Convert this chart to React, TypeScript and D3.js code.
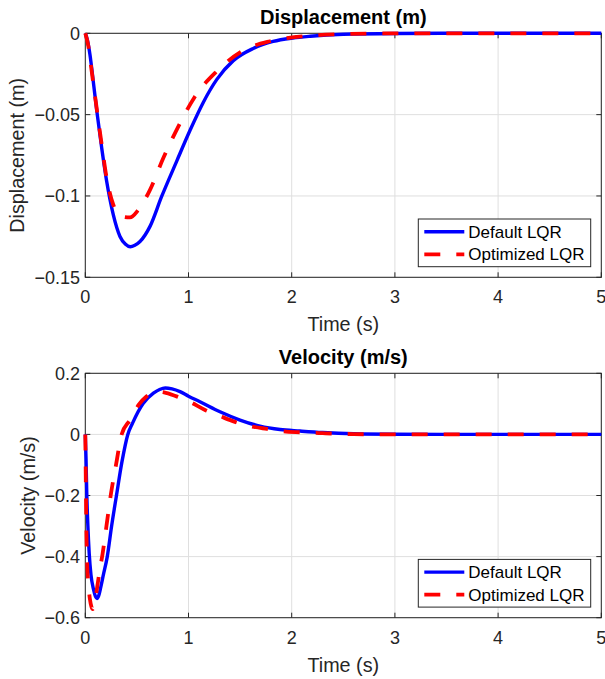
import React from 'react';
import * as d3 from 'd3';

// ---- data ----
const timeTicks = [0, 1, 2, 3, 4, 5];
const dispTicks = [0, -0.05, -0.1, -0.15];
const velTicks = [0.2, 0, -0.2, -0.4, -0.6];
const seriesNames = ['Default LQR', 'Optimized LQR'];

const dispDefault: [number, number][] = [
  [0, 0], [0.02, -0.004], [0.045, -0.013], [0.078, -0.03], [0.116, -0.05], [0.159, -0.0705],
  [0.207, -0.091], [0.271, -0.1115], [0.336, -0.1249], [0.39, -0.1297], [0.435, -0.1312],
  [0.48, -0.1303], [0.53, -0.128], [0.627, -0.1187], [0.74, -0.1003], [0.885, -0.0787],
  [1.014, -0.0598], [1.143, -0.0425], [1.273, -0.0285], [1.434, -0.0168], [1.628, -0.0093],
  [1.82, -0.005], [2.01, -0.0029], [2.18, -0.0018], [2.5, -0.0006], [3, -0.0001], [3.5, 0], [5, 0],
];
const dispOptimized: [number, number][] = [
  [0, 0], [0.03, -0.008], [0.062, -0.0234], [0.11, -0.046], [0.159, -0.0685], [0.207, -0.089],
  [0.271, -0.1054], [0.353, -0.1126], [0.433, -0.1132], [0.514, -0.1085], [0.627, -0.0962],
  [0.756, -0.0767], [0.92, -0.055], [1.063, -0.0388], [1.273, -0.0234], [1.515, -0.0111],
  [1.79, -0.0049], [2.05, -0.0022], [2.5, -0.0005], [3, 0], [5, 0],
];
const velDefault: [number, number][] = [
  [0, 0], [0.007, -0.08], [0.014, -0.19], [0.025, -0.3], [0.038, -0.39], [0.055, -0.46],
  [0.078, -0.505], [0.098, -0.53], [0.113, -0.537], [0.13, -0.528], [0.15, -0.5], [0.175, -0.46],
  [0.213, -0.4], [0.255, -0.3], [0.302, -0.2], [0.355, -0.09], [0.412, 0], [0.457, 0.036],
  [0.56, 0.101], [0.66, 0.135], [0.72, 0.147], [0.775, 0.152], [0.84, 0.149], [0.918, 0.14],
  [1.0, 0.125], [1.111, 0.107], [1.305, 0.074], [1.499, 0.047], [1.693, 0.027], [1.887, 0.016],
  [2.08, 0.011], [2.3, 0.006], [2.6, 0.002], [3, 0.0005], [3.5, 0], [5, 0],
];
const velOptimized: [number, number][] = [
  [0, 0], [0.004, -0.12], [0.01, -0.3], [0.018, -0.42], [0.03, -0.49], [0.045, -0.54],
  [0.06, -0.565], [0.071, -0.572], [0.085, -0.56], [0.1, -0.535], [0.115, -0.5], [0.14, -0.445],
  [0.168, -0.39], [0.205, -0.3], [0.246, -0.2], [0.3, -0.095], [0.352, 0], [0.433, 0.047],
  [0.52, 0.098], [0.595, 0.125], [0.69, 0.14], [0.78, 0.136], [0.918, 0.12], [1.01, 0.107],
  [1.16, 0.08], [1.305, 0.06], [1.45, 0.041], [1.6, 0.027], [1.76, 0.018], [1.9, 0.011],
  [2.08, 0.007], [2.3, 0.004], [2.6, 0.001], [3, 0], [5, 0],
];

const FONT = '"Liberation Sans", Arial, Helvetica, sans-serif';
const AX = '#262626';
const GRID = '#dfdfdf';
const BLUE = '#0000ff';
const RED = '#ff0000';

function fmt(v: number) {
  const s = String(Math.abs(v));
  return v < 0 ? '\u2212' + s : s;
}

type PanelProps = {
  top: number;
  bottom: number;
  yDomain: [number, number];
  yTicks: number[];
  title: string;
  yLabel: string;
  yLabelX: number;
  a: [number, number][];
  b: [number, number][];
};

function Panel({ top, bottom, yDomain, yTicks, title, yLabel, yLabelX, a, b }: PanelProps) {
  const left = 85.3;
  const right = 601.3;
  const x = d3.scaleLinear().domain([0, 5]).range([left, right]);
  const y = d3.scaleLinear().domain(yDomain).range([bottom, top]);
  const line = d3
    .line<[number, number]>()
    .x((d) => x(d[0]))
    .y((d) => y(d[1]))
    .curve(d3.curveMonotoneX);
  const tl = 5;
  const lgX0 = 418.3;
  const lgX1 = 590.7;
  const lgY0 = bottom - 58.3;
  const lgY1 = bottom - 10.6;
  const row1 = lgY0 + 12.7;
  const row2 = lgY0 + 35.3;
  return (
    <g>
      {/* grid */}
      {timeTicks.map((t) => (
        <line key={'gx' + t} x1={x(t)} x2={x(t)} y1={top} y2={bottom} stroke={GRID} strokeWidth={1} />
      ))}
      {yTicks.map((v) => (
        <line key={'gy' + v} x1={left} x2={right} y1={y(v)} y2={y(v)} stroke={GRID} strokeWidth={1} />
      ))}
      {/* box */}
      <rect x={left} y={top} width={right - left} height={bottom - top} fill="none" stroke={AX} strokeWidth={1} />
      {/* ticks */}
      {timeTicks.map((t) => (
        <g key={'tx' + t}>
          <line x1={x(t)} x2={x(t)} y1={bottom} y2={bottom - tl} stroke={AX} />
          <line x1={x(t)} x2={x(t)} y1={top} y2={top + tl} stroke={AX} />
          <text x={x(t)} y={bottom + 26} textAnchor="middle" fontSize={18} fill={AX} fontFamily={FONT}>
            {fmt(t)}
          </text>
        </g>
      ))}
      {yTicks.map((v) => (
        <g key={'ty' + v}>
          <line x1={left} x2={left + tl} y1={y(v)} y2={y(v)} stroke={AX} />
          <line x1={right} x2={right - tl} y1={y(v)} y2={y(v)} stroke={AX} />
          <text x={80} y={y(v) + 6.3} textAnchor="end" fontSize={18} fill={AX} fontFamily={FONT}>
            {fmt(v)}
          </text>
        </g>
      ))}
      {/* labels */}
      <text x={(left + right) / 2} y={bottom + 54} textAnchor="middle" fontSize={19.8} fill={AX} fontFamily={FONT}>
        Time (s)
      </text>
      <text
        transform={`translate(${yLabelX},${(top + bottom) / 2}) rotate(-90)`}
        textAnchor="middle"
        fontSize={19.8}
        fill={AX}
        fontFamily={FONT}
      >
        {yLabel}
      </text>
      <text x={(left + right) / 2} y={top - 9.8} textAnchor="middle" fontSize={20} fontWeight="bold" fill="#000" fontFamily={FONT}>
        {title}
      </text>
      {/* series */}
      <path d={line(a) || ''} fill="none" stroke={BLUE} strokeWidth={3.4} strokeLinejoin="round" />
      <path d={line(b) || ''} fill="none" stroke={RED} strokeWidth={3.8} strokeDasharray="16 16" strokeLinejoin="round" />
      {/* legend */}
      <rect x={lgX0} y={lgY0} width={lgX1 - lgX0} height={lgY1 - lgY0} fill="#fff" stroke={AX} strokeWidth={1} />
      <line x1={424.3} x2={464.3} y1={row1} y2={row1} stroke={BLUE} strokeWidth={3.4} />
      <line x1={424.3} x2={464.3} y1={row2} y2={row2} stroke={RED} strokeWidth={3.8} strokeDasharray="16 16" />
      <text x={468.3} y={row1 + 6} fontSize={17} fill="#000" fontFamily={FONT}>
        {seriesNames[0]}
      </text>
      <text x={468.3} y={row2 + 6} fontSize={17} fill="#000" fontFamily={FONT}>
        {seriesNames[1]}
      </text>
    </g>
  );
}

export default function App() {
  return (
    <svg
      width={605}
      height={679}
      viewBox="0 0 605 679"
      style={{ position: 'absolute', left: 0, top: 0, background: '#fff' }}
    >
      <rect x={0} y={0} width={605} height={679} fill="#fff" />
      <Panel
        top={33.3}
        bottom={277.3}
        yDomain={[-0.15, 0]}
        yTicks={dispTicks}
        title="Displacement (m)"
        yLabel="Displacement (m)"
        yLabelX={24}
        a={dispDefault}
        b={dispOptimized}
      />
      <Panel
        top={373.3}
        bottom={617.7}
        yDomain={[-0.6, 0.2]}
        yTicks={velTicks}
        title="Velocity (m/s)"
        yLabel="Velocity (m/s)"
        yLabelX={35}
        a={velDefault}
        b={velOptimized}
      />
    </svg>
  );
}
